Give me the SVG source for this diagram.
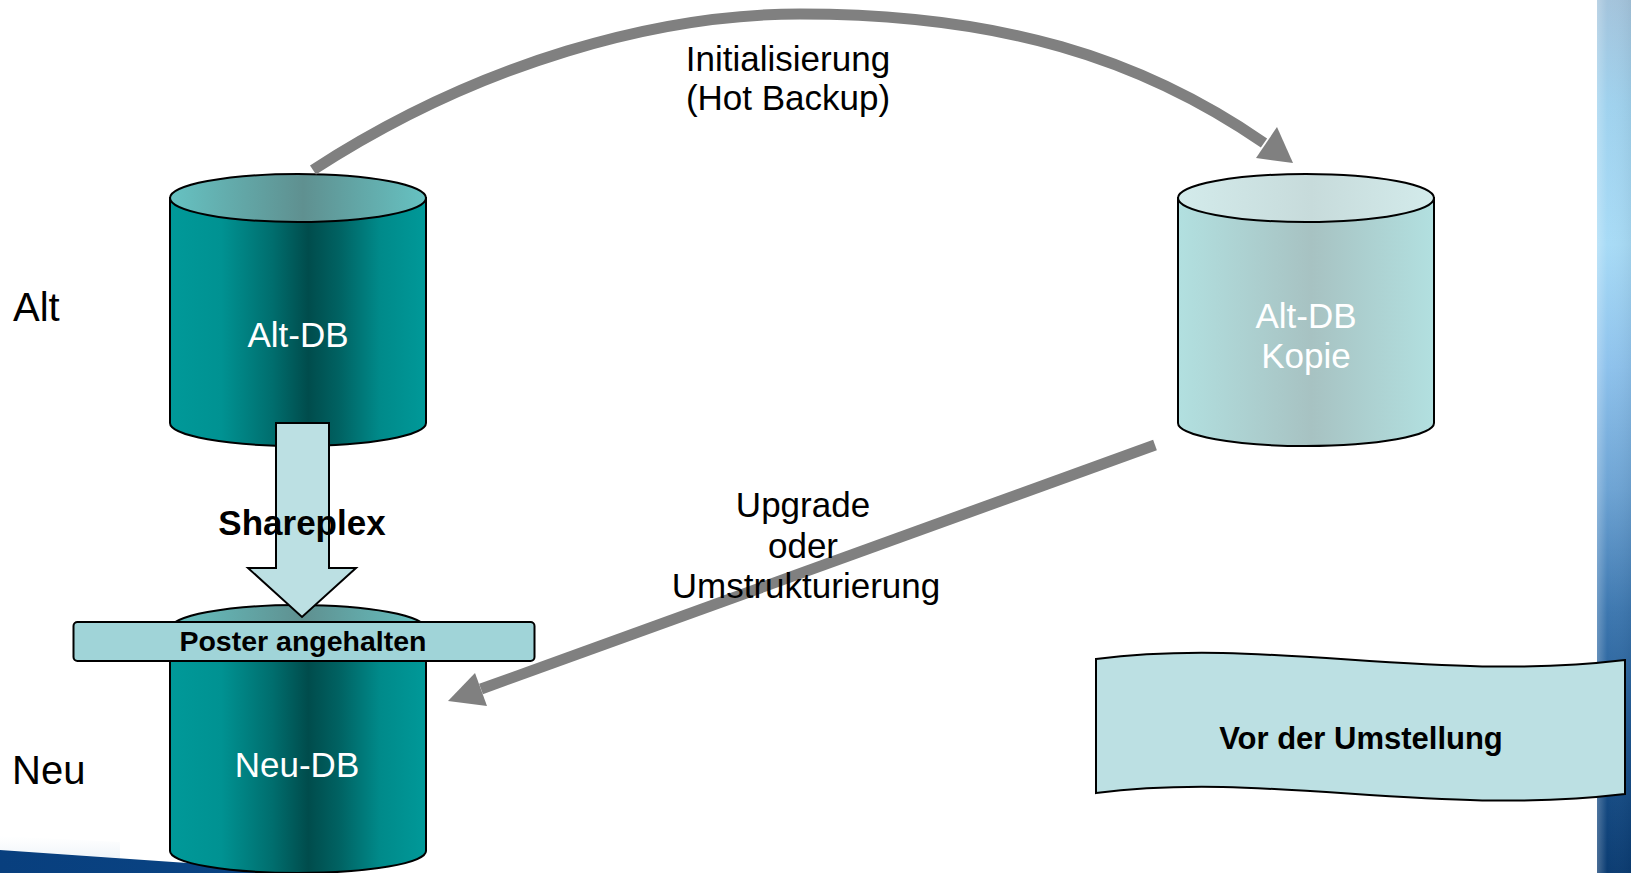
<svg xmlns="http://www.w3.org/2000/svg" width="1631" height="873" viewBox="0 0 1631 873">
<style>
text{font-family:"Liberation Sans",Arial,sans-serif}
.lbl{font-size:40px;fill:#000}
.db{font-size:35px;fill:#fff;text-anchor:middle}
.cap{font-size:35px;fill:#000;text-anchor:middle}
.bold{font-weight:bold;fill:#000;text-anchor:middle}
.edge{stroke:#000;stroke-width:2}
.conn{fill:none;stroke:#808080;stroke-width:11}
.head{fill:#808080}
</style>
<defs>
<linearGradient id="gBody" x1="0" y1="0" x2="1" y2="0">
<stop offset="0" stop-color="#009999"/>
<stop offset="0.2" stop-color="#009292"/>
<stop offset="0.4" stop-color="#006E6E"/>
<stop offset="0.54" stop-color="#004C4C"/>
<stop offset="0.66" stop-color="#006262"/>
<stop offset="0.82" stop-color="#008A8A"/>
<stop offset="1" stop-color="#009999"/>
</linearGradient>
<linearGradient id="gTop" x1="0" y1="0" x2="1" y2="0">
<stop offset="0" stop-color="#66C2C2"/>
<stop offset="0.52" stop-color="#5F9090"/>
<stop offset="1" stop-color="#66C2C2"/>
</linearGradient>
<linearGradient id="gBodyL" x1="0" y1="0" x2="1" y2="0">
<stop offset="0" stop-color="#B2E0E0"/>
<stop offset="0.52" stop-color="#A7C2C2"/>
<stop offset="1" stop-color="#B2E0E0"/>
</linearGradient>
<linearGradient id="gTopL" x1="0" y1="0" x2="1" y2="0">
<stop offset="0" stop-color="#D3EBEB"/>
<stop offset="0.52" stop-color="#C7DBDB"/>
<stop offset="1" stop-color="#D3EBEB"/>
</linearGradient>
<linearGradient id="gStrip" x1="0" y1="0" x2="0" y2="1">
<stop offset="0" stop-color="#A4C4DC"/>
<stop offset="0.12" stop-color="#A0D2EE"/>
<stop offset="0.28" stop-color="#A8DBF6"/>
<stop offset="0.42" stop-color="#8EC2EC"/>
<stop offset="0.56" stop-color="#6EA4D4"/>
<stop offset="0.7" stop-color="#3E78B0"/>
<stop offset="0.85" stop-color="#1D558F"/>
<stop offset="1" stop-color="#0B3C72"/>
</linearGradient>
<linearGradient id="gStripH" x1="0" y1="0" x2="1" y2="0">
<stop offset="0" stop-color="#ffffff" stop-opacity="0.25"/>
<stop offset="0.3" stop-color="#ffffff" stop-opacity="0"/>
<stop offset="1" stop-color="#000000" stop-opacity="0.05"/>
</linearGradient>
<linearGradient id="gBand" x1="0" y1="0" x2="1" y2="0">
<stop offset="0" stop-color="#083F7E"/>
<stop offset="1" stop-color="#0A4585"/>
</linearGradient>
<linearGradient id="gGlow" x1="0" y1="0" x2="0" y2="1">
<stop offset="0" stop-color="#F4F8FB" stop-opacity="0"/>
<stop offset="1" stop-color="#EEF4F9" stop-opacity="1"/>
</linearGradient>
</defs>

<rect width="1631" height="873" fill="#ffffff"/>

<g id="background-decor">
<rect x="1597" y="0" width="34" height="873" fill="url(#gStrip)"/>
<rect x="1597" y="0" width="34" height="873" fill="url(#gStripH)"/>
<polygon points="0,836 120,842 120,858 0,850" fill="url(#gGlow)"/>
<polygon points="0,850 330,873 0,873" fill="url(#gBand)"/>
</g>

<text class="lbl" x="13" y="321">Alt</text>
<text class="lbl" x="12" y="784">Neu</text>

<g id="alt-db">
<path class="edge" fill="url(#gBody)" d="M170 198 V423 A128 23 0 0 0 426 423 V198 Z"/>
<ellipse class="edge" fill="url(#gTop)" cx="298" cy="198" rx="128" ry="24"/>
<text class="db" x="298" y="347">Alt-DB</text>
</g>

<g id="alt-db-kopie">
<path class="edge" fill="url(#gBodyL)" d="M1178 198 V423 A128 23 0 0 0 1434 423 V198 Z"/>
<ellipse class="edge" fill="url(#gTopL)" cx="1306" cy="198" rx="128" ry="24"/>
<text class="db" x="1306" y="328">Alt-DB</text>
<text class="db" x="1306" y="368">Kopie</text>
</g>

<g id="neu-db">
<path class="edge" fill="url(#gBody)" d="M170 629 V851 A128 22 0 0 0 426 851 V629 Z"/>
<ellipse class="edge" fill="url(#gTop)" cx="298" cy="629" rx="128" ry="24"/>
<text class="db" x="297" y="777">Neu-DB</text>
</g>

<g id="shareplex">
<polygon class="edge" fill="#BCE0E3" points="276,423 329,423 329,568 356,568 302,617 248,568 276,568"/>
<text class="bold" x="302" y="535" font-size="35">Shareplex</text>
</g>

<g id="poster-angehalten">
<rect class="edge" fill="#A0D4D8" x="73.5" y="622" width="461" height="39" rx="4"/>
<text class="bold" x="303" y="651" font-size="28.5">Poster angehalten</text>
</g>

<g id="vor-der-umstellung">
<path class="edge" fill="#BCE0E3" d="M1096 659 C1270 637 1430 683 1625 660 L1625 794 C1430 817 1270 771 1096 793 Z"/>
<text class="bold" x="1361" y="749" font-size="31">Vor der Umstellung</text>
</g>

<g id="connectors">
<path class="conn" d="M313 170 C481 61 660 14 800 14 C1000 14 1141 58 1264 143"/>
<polygon class="head" points="1293,163 1277,127 1256,158"/>
<path class="conn" d="M1155 445 L481 689"/>
<polygon class="head" points="448,701 475,673 487,706"/>
</g>

<g id="connector-labels">
<text class="cap" x="788" y="71">Initialisierung</text>
<text class="cap" x="788" y="110">(Hot Backup)</text>
<text class="cap" x="803" y="517">Upgrade</text>
<text class="cap" x="803" y="558">oder</text>
<text class="cap" x="806" y="598">Umstrukturierung</text>
</g>
</svg>
